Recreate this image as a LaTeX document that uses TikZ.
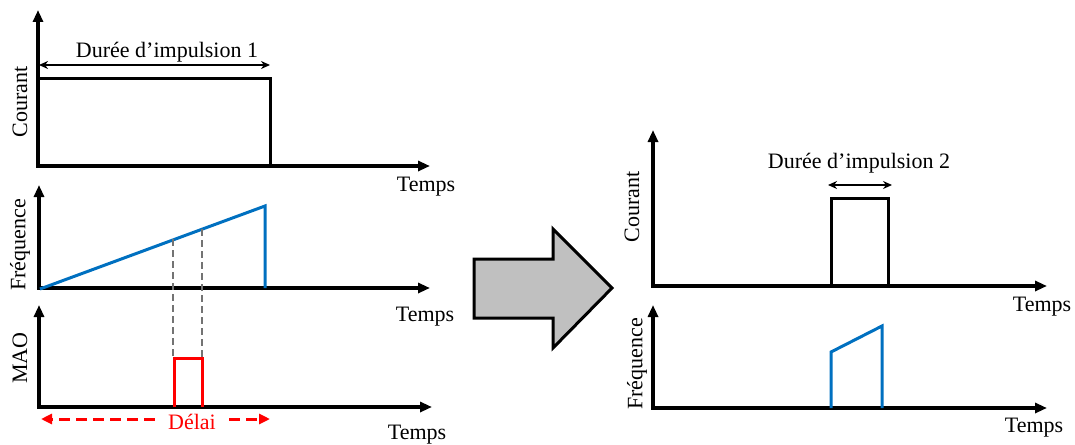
\documentclass[tikz,border=0pt]{standalone}
\usepackage{fontspec}
\setmainfont{Liberation Serif}
\usetikzlibrary{arrows.meta}

\definecolor{rampblue}{RGB}{0,112,192}
\definecolor{arrowgray}{RGB}{192,192,192}

\tikzset{
	axis/.style={line width=3.2pt, {Triangle[length=12pt,width=10pt]}-{Triangle[length=12pt,width=10pt]}},
	lbl/.style={font=\fontsize{22}{26}\selectfont, inner sep=0pt},
	span/.style={line width=1.5pt, {Stealth[length=9pt,width=8pt]}-{Stealth[length=9pt,width=8pt]}}
}

\begin{document}
\begin{tikzpicture}[x=1pt, y=-1pt, line join=miter]
		\useasboundingbox (0,0) rectangle (1075,444);

		% Axes origins
		\coordinate (courA) at (38,166);
		\coordinate (freqA) at (39,288);
		\coordinate (mao) at (39,407);
		\coordinate (courB) at (653,286);
		\coordinate (freqB) at (653,408);

		% Axes
		\draw[axis] (38,10) -- (courA) -- (430,166);
		\draw[axis] (39,185) -- (freqA) -- (430,288);
		\draw[axis] (39,305) -- (mao) -- (432,407);
		\draw[axis] (653,130) -- (courB) -- (1047,286);
		\draw[axis] (653,305) -- (freqB) -- (1047,408);

		% Axis labels
		\node[lbl, rotate=90] (yCourA) at (20,102) {Courant};
		\node[lbl, rotate=90] (yFreqA) at (20,245) {Fréquence};
		\node[lbl, rotate=90] (yMao) at (20,358) {MAO};
		\node[lbl, rotate=90] (yCourB) at (632,207) {Courant};
		\node[lbl, rotate=90] (yFreqB) at (637,364) {Fréquence};
		\node[lbl] (tCourA) at (426,187) {Temps};
		\node[lbl] (tFreqA) at (425,317) {Temps};
		\node[lbl] (tMao) at (417,435) {Temps};
		\node[lbl] (tCourB) at (1042,307) {Temps};
		\node[lbl] (tFreqB) at (1034,428) {Temps};

		% Long current pulse
		\draw[line width=3pt] (38,78) -- (270,78) -- (270,166);
		\coordinate (pulseA-l) at (39,65);
		\coordinate (pulseA-r) at (270,65);
		\draw[span] (pulseA-l) -- (pulseA-r);
		\node[lbl] (dureeA) at (167,52) {Durée d’impulsion 1};

		% Frequency ramp
		\draw[rampblue, line width=3pt] (40,289) -- (265,206) -- (265,288);

		% Dashed guides from ramp to MAO window
		\draw[gray!90!black, line width=1.2pt, dash pattern=on 7pt off 4pt] (173,239) -- (173,358);
		\draw[gray!90!black, line width=1.2pt, dash pattern=on 7pt off 4pt] (202,229) -- (202,358);

		% MAO window
		\draw[red, line width=3pt] (174,407) -- (174,358) -- (202,358) -- (202,407);

		% Delay
		\node[lbl, red, inner xsep=13pt] (delai) at (192,422) {Délai};
		\coordinate (delai-l) at (41,419);
		\coordinate (delai-r) at (270,419);
		\draw[red, line width=3pt, dash pattern=on 11pt off 6pt, -{Triangle[length=11pt,width=10pt]}] (delai.west |- delai-l) -- (delai-l);
		\draw[red, line width=3pt, dash pattern=on 11pt off 6pt, -{Triangle[length=11pt,width=10pt]}] (delai.east |- delai-r) -- (delai-r);

		% Big transition arrow
		\draw[line width=3pt, fill=arrowgray] (474,259) -- (553,259) -- (553,229) -- (612,288)
		-- (553,348) -- (553,318) -- (474,318) -- cycle;

		% Short current pulse
		\draw[line width=3pt] (831,286) -- (831,198) -- (888,198) -- (888,286);
		\coordinate (pulseB-l) at (828,185);
		\coordinate (pulseB-r) at (892,185);
		\draw[span] (pulseB-l) -- (pulseB-r);
		\node[lbl] (dureeB) at (859,163) {Durée d’impulsion 2};

		% Short frequency ramp
		\draw[rampblue, line width=3pt] (831,408) -- (831,352) -- (882,326) -- (882,408);
	\end{tikzpicture}
\end{document}
